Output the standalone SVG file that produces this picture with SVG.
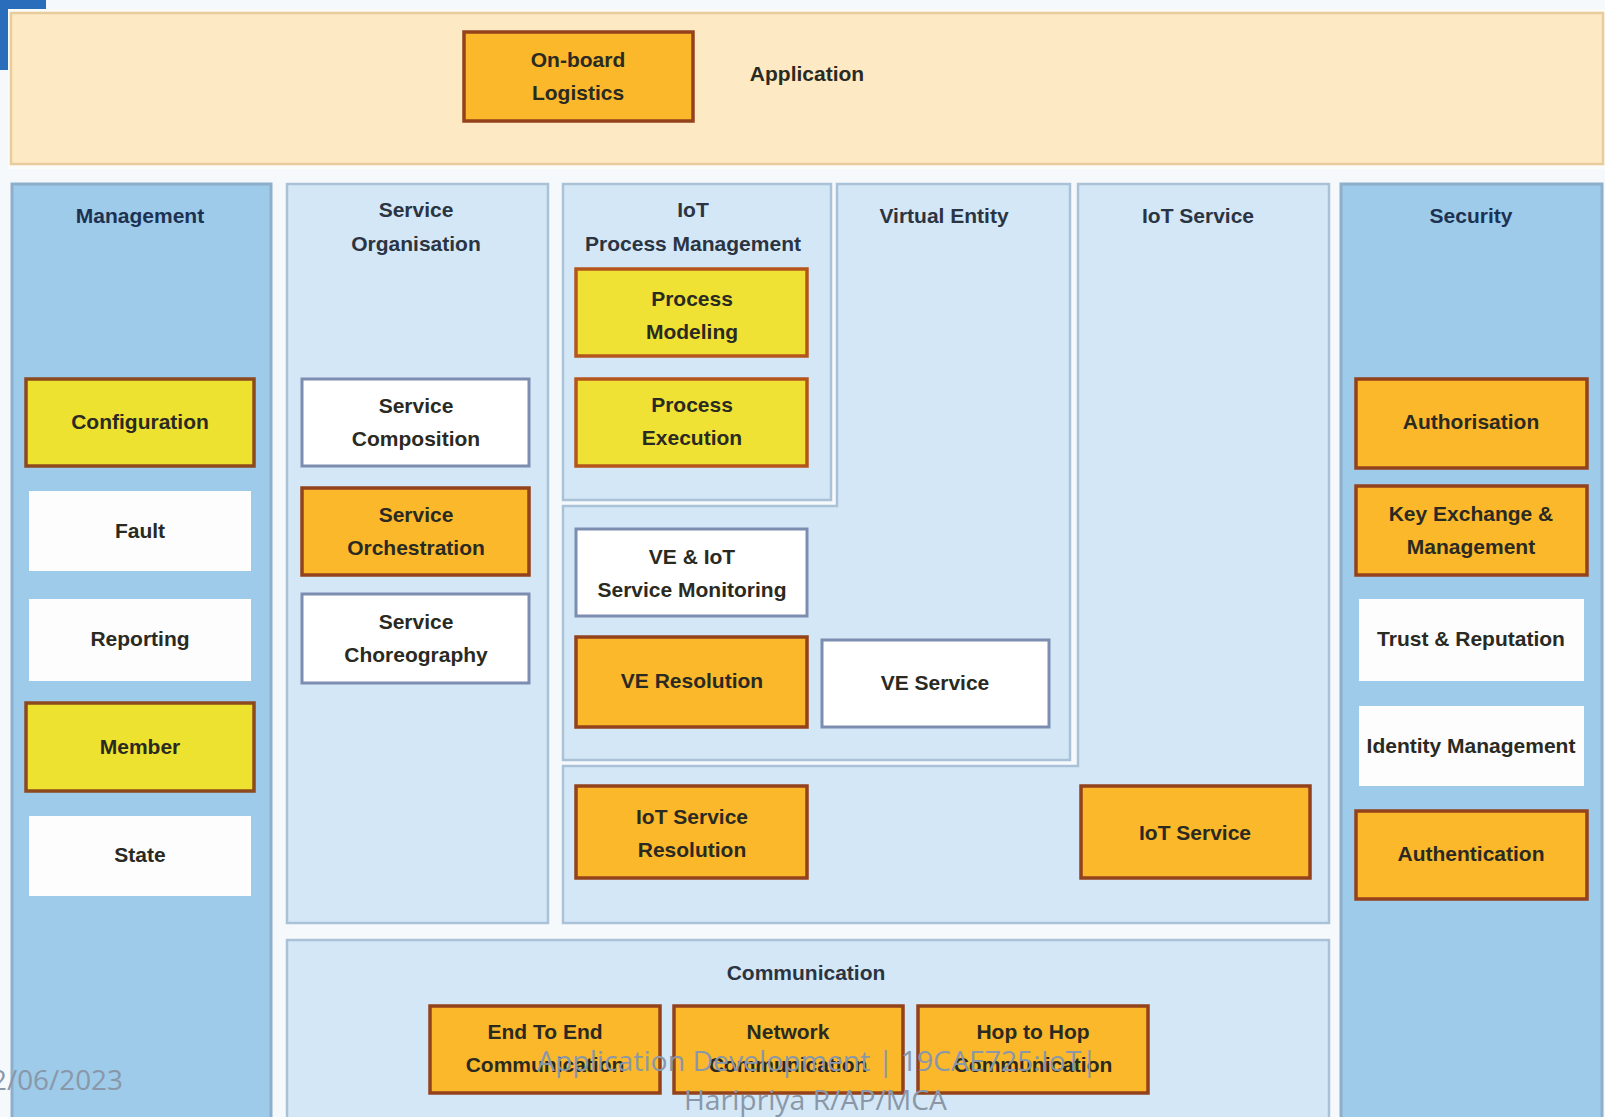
<svg xmlns="http://www.w3.org/2000/svg" width="1605" height="1117" viewBox="0 0 1605 1117">
  <style>
    .lbl { font-family: "Liberation Sans", Arial, sans-serif; font-weight: bold; font-size: 21px; text-anchor: middle; dominant-baseline: central; fill: #2a2a22; }
    .ttl { fill: #2b3442; }
    .navy { fill: #1d3252; }
    .org { fill: #fab82a; stroke: #93421c; stroke-width: 3.5; }
    .yel { fill: #eee230; stroke: #8c4a1e; stroke-width: 3.5; }
    .yelo { fill: #f0e234; stroke: #b4561c; stroke-width: 3.5; }
    .wb { fill: #ffffff; stroke: #7c8db0; stroke-width: 3; }
    .wn { fill: #fdfdfd; }
    .outer { fill: #9dcbe9; stroke: #8eafcb; stroke-width: 3; }
    .inner { fill: #d4e7f6; stroke: #aac2d8; stroke-width: 2.5; }
    .foot { font-family: "Open Sans", "Liberation Sans", sans-serif; font-size: 27px; fill: #8a97a8; }
  </style>

  <!-- page -->
  <rect x="0" y="0" width="1605" height="1117" fill="#f6f9fc"/>
  <rect x="0" y="0" width="46" height="70" fill="#2a6dba"/>
  <rect x="8" y="9" width="1597" height="160" fill="#fbfbf8"/>

  <!-- application layer -->
  <g id="application">
    <rect x="11" y="13" width="1592" height="151" fill="#fdeac4" stroke="#e8cc9c" stroke-width="2.5"/>
    <text class="lbl" x="807" y="73">Application</text>
  </g>
  <g id="onboard-logistics">
    <rect class="org" x="464" y="32" width="229" height="89"/>
    <text class="lbl" x="578" y="59">On-board</text>
    <text class="lbl" x="578" y="92">Logistics</text>
  </g>

  <!-- functional groups -->
  <g id="management">
    <rect class="outer" x="12" y="184" width="259" height="940"/>
    <text class="lbl navy" x="140" y="215">Management</text>
  </g>
  <g id="service-organisation">
    <rect class="inner" x="287" y="184" width="261" height="739"/>
    <text class="lbl ttl" x="416" y="209">Service</text>
    <text class="lbl ttl" x="416" y="243">Organisation</text>
  </g>
  <g id="iot-process-management">
    <rect class="inner" x="563" y="184" width="268" height="316"/>
    <text class="lbl ttl" x="693" y="209">IoT</text>
    <text class="lbl ttl" x="693" y="243">Process Management</text>
  </g>
  <g id="virtual-entity">
    <path class="inner" d="M837 184 H1070 V760 H563 V506 H837 Z"/>
    <text class="lbl ttl" x="944" y="215">Virtual Entity</text>
  </g>
  <g id="iot-service-group">
    <path class="inner" d="M1078 184 H1329 V923 H563 V766 H1078 Z"/>
    <text class="lbl ttl" x="1198" y="215">IoT Service</text>
  </g>
  <g id="security">
    <rect class="outer" x="1341" y="184" width="261" height="940"/>
    <text class="lbl navy" x="1471" y="215">Security</text>
  </g>
  <g id="communication">
    <rect class="inner" x="287" y="940" width="1042" height="184"/>
    <text class="lbl ttl" x="806" y="972">Communication</text>
  </g>

  <!-- management components -->
  <g id="configuration">
    <rect class="yel" x="26" y="379" width="228" height="87"/>
    <text class="lbl" x="140" y="421">Configuration</text>
  </g>
  <g id="fault">
    <rect class="wn" x="29" y="491" width="222" height="80"/>
    <text class="lbl" x="140" y="530">Fault</text>
  </g>
  <g id="reporting">
    <rect class="wn" x="29" y="599" width="222" height="82"/>
    <text class="lbl" x="140" y="638">Reporting</text>
  </g>
  <g id="member">
    <rect class="yel" x="26" y="703" width="228" height="88"/>
    <text class="lbl" x="140" y="746">Member</text>
  </g>
  <g id="state">
    <rect class="wn" x="29" y="816" width="222" height="80"/>
    <text class="lbl" x="140" y="854">State</text>
  </g>

  <!-- service organisation components -->
  <g id="service-composition">
    <rect class="wb" x="302" y="379" width="227" height="87"/>
    <text class="lbl" x="416" y="405">Service</text>
    <text class="lbl" x="416" y="438">Composition</text>
  </g>
  <g id="service-orchestration">
    <rect class="org" x="302" y="488" width="227" height="87"/>
    <text class="lbl" x="416" y="514">Service</text>
    <text class="lbl" x="416" y="547">Orchestration</text>
  </g>
  <g id="service-choreography">
    <rect class="wb" x="302" y="594" width="227" height="89"/>
    <text class="lbl" x="416" y="621">Service</text>
    <text class="lbl" x="416" y="654">Choreography</text>
  </g>

  <!-- process management components -->
  <g id="process-modeling">
    <rect class="yelo" x="576" y="269" width="231" height="87"/>
    <text class="lbl" x="692" y="298">Process</text>
    <text class="lbl" x="692" y="331">Modeling</text>
  </g>
  <g id="process-execution">
    <rect class="yelo" x="576" y="379" width="231" height="87"/>
    <text class="lbl" x="692" y="404">Process</text>
    <text class="lbl" x="692" y="437">Execution</text>
  </g>

  <!-- virtual entity components -->
  <g id="ve-iot-service-monitoring">
    <rect class="wb" x="576" y="529" width="231" height="87"/>
    <text class="lbl" x="692" y="556">VE &amp; IoT</text>
    <text class="lbl" x="692" y="589">Service Monitoring</text>
  </g>
  <g id="ve-resolution">
    <rect class="org" x="576" y="637" width="231" height="90"/>
    <text class="lbl" x="692" y="680">VE Resolution</text>
  </g>
  <g id="ve-service">
    <rect class="wb" x="822" y="640" width="227" height="87"/>
    <text class="lbl" x="935" y="682">VE Service</text>
  </g>

  <!-- iot service components -->
  <g id="iot-service-resolution">
    <rect class="org" x="576" y="786" width="231" height="92"/>
    <text class="lbl" x="692" y="816">IoT Service</text>
    <text class="lbl" x="692" y="849">Resolution</text>
  </g>
  <g id="iot-service">
    <rect class="org" x="1081" y="786" width="229" height="92"/>
    <text class="lbl" x="1195" y="832">IoT Service</text>
  </g>

  <!-- security components -->
  <g id="authorisation">
    <rect class="org" x="1356" y="379" width="231" height="89"/>
    <text class="lbl" x="1471" y="421">Authorisation</text>
  </g>
  <g id="key-exchange">
    <rect class="org" x="1356" y="486" width="231" height="89"/>
    <text class="lbl" x="1471" y="513">Key Exchange &amp;</text>
    <text class="lbl" x="1471" y="546">Management</text>
  </g>
  <g id="trust-reputation">
    <rect class="wn" x="1359" y="599" width="225" height="82"/>
    <text class="lbl" x="1471" y="638">Trust &amp; Reputation</text>
  </g>
  <g id="identity-management">
    <rect class="wn" x="1359" y="706" width="225" height="80"/>
    <text class="lbl" x="1471" y="745">Identity Management</text>
  </g>
  <g id="authentication">
    <rect class="org" x="1356" y="811" width="231" height="88"/>
    <text class="lbl" x="1471" y="853">Authentication</text>
  </g>

  <!-- communication components -->
  <g id="end-to-end">
    <rect class="org" x="430" y="1006" width="230" height="87"/>
    <text class="lbl" x="545" y="1031">End To End</text>
    <text class="lbl" x="545" y="1064">Communication</text>
  </g>
  <g id="network">
    <rect class="org" x="674" y="1006" width="229" height="87"/>
    <text class="lbl" x="788" y="1031">Network</text>
    <text class="lbl" x="788" y="1064">Communication</text>
  </g>
  <g id="hop-to-hop">
    <rect class="org" x="918" y="1006" width="230" height="87"/>
    <text class="lbl" x="1033" y="1031">Hop to Hop</text>
    <text class="lbl" x="1033" y="1064">Communication</text>
  </g>

  <!-- slide footer -->
  <g id="footer">
    <text class="foot" x="-9" y="1090" textLength="132" lengthAdjust="spacingAndGlyphs">2/06/2023</text>
    <text class="foot" x="537" y="1071" textLength="560" lengthAdjust="spacingAndGlyphs">Application Development | 19CAE725:IoT|</text>
    <text class="foot" x="684" y="1110" textLength="263" lengthAdjust="spacingAndGlyphs">Haripriya R/AP/MCA</text>
  </g>
</svg>
